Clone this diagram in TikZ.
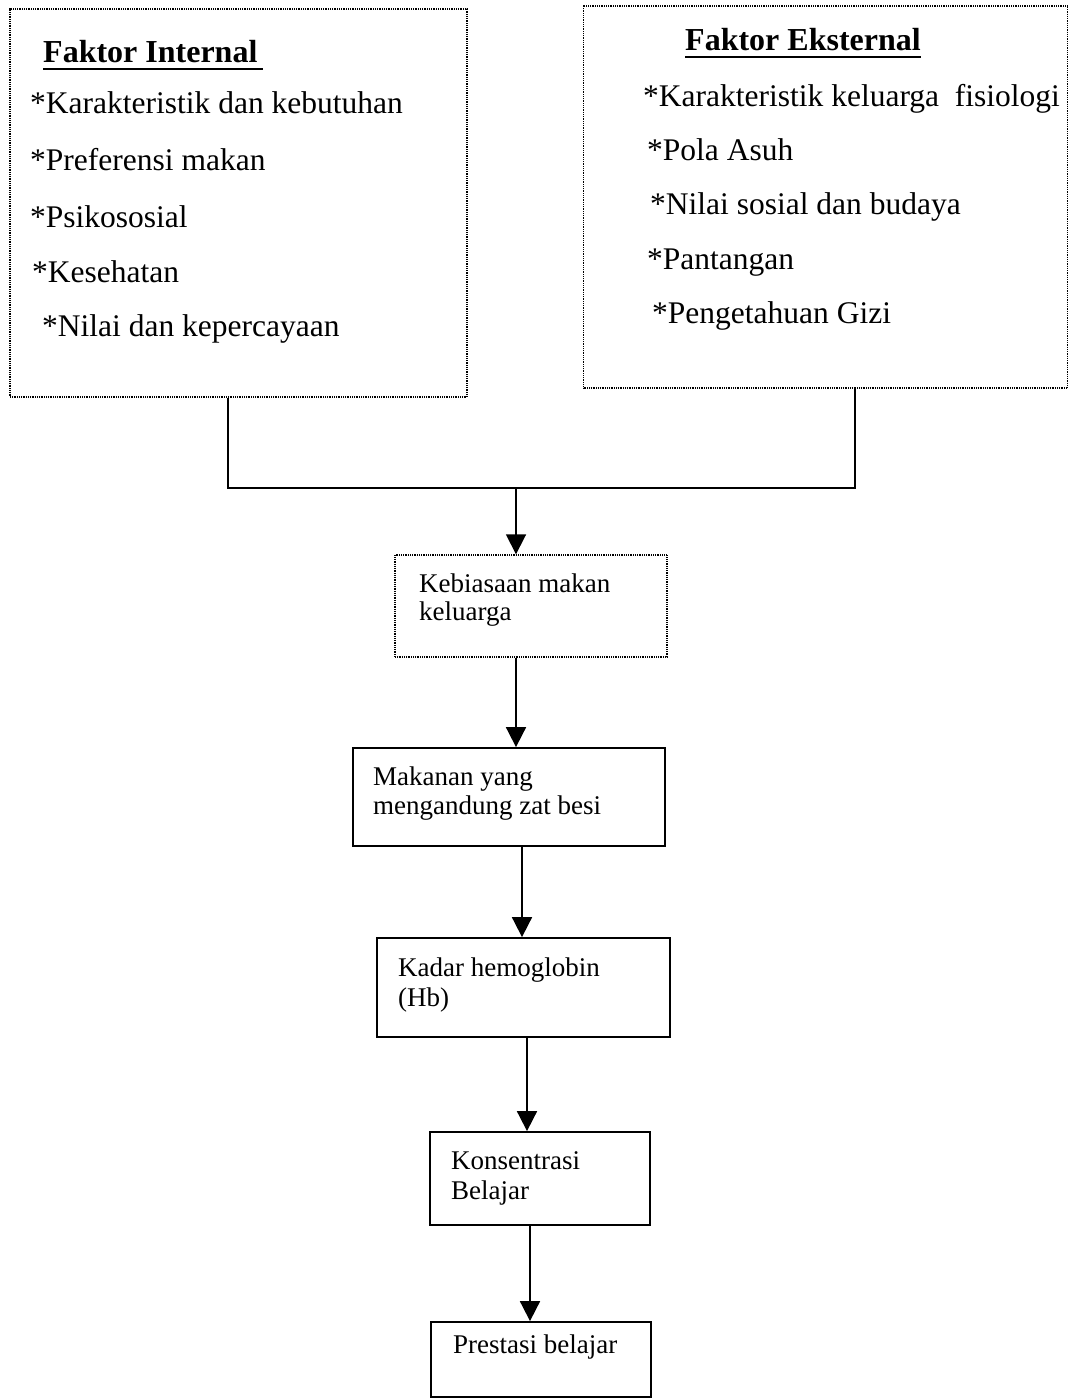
\documentclass[tikz,border=0pt]{standalone}
\usepackage{fontspec}
\setmainfont{Liberation Serif}
\usetikzlibrary{arrows.meta}
\begin{document}
\begin{tikzpicture}[x=1pt,y=-1pt,
  dotbox/.style={draw, line width=1.4pt, dash pattern=on 1pt off 0.8pt, inner sep=0pt},
  solidbox/.style={draw, line width=1.8pt, inner sep=0pt},
  big/.style={anchor=base west, inner sep=0pt, font=\fontsize{31.5}{36}\selectfont},
  head/.style={anchor=base west, inner sep=0pt, font=\fontsize{32}{36}\selectfont\bfseries},
  small/.style={anchor=base west, inner sep=0pt, font=\fontsize{27}{31}\selectfont},
  conn/.style={line width=1.8pt},
  arr/.style={conn, -{Triangle[width=20pt,length=20pt]}},
  uline/.style={line width=2.5pt}
]
\useasboundingbox (0,0) rectangle (1071,1399);

% top boxes
\node[dotbox, minimum width=457pt, minimum height=388pt] (int) at (238.5,203) {};
\node[dotbox, minimum width=484pt, minimum height=382pt] (ext) at (825.5,197) {};

% internal texts
\node[head] (hi) at (43,63) {Faktor Internal};
\node[big] (i1) at (30,114) {*Karakteristik dan kebutuhan};
\node[big] (i2) at (30,171) {*Preferensi makan};
\node[big] (i3) at (30,227) {*Psikososial};
\node[big] (i4) at (32,282) {*Kesehatan};
\node[big] (i5) at (42,336) {*Nilai dan kepercayaan};
\draw[uline] ([yshift=-6pt]hi.base west) -- ([yshift=-6pt,xshift=5pt]hi.base east);

% external texts
\node[head] (he) at (685,51) {Faktor Eksternal};
\node[big] (e1) at (643,107) {*Karakteristik keluarga\ \ fisiologi};
\node[big] (e2) at (647,161) {*Pola Asuh};
\node[big] (e3) at (650,214) {*Nilai sosial dan budaya};
\node[big] (e4) at (647,269) {*Pantangan};
\node[big] (e5) at (652,323) {*Pengetahuan Gizi};
\draw[uline] ([yshift=-6pt]he.base west) -- ([yshift=-6pt]he.base east);

% chain boxes
\node[dotbox, minimum width=272pt, minimum height=102pt] (keb) at (531,606) {};
\node[small] (kt1) at (419,592) {Kebiasaan makan};
\node[small] (kt2) at (419,620) {keluarga};

\node[solidbox, minimum width=312pt, minimum height=98pt] (mak) at (509,797) {};
\node[small] (mt1) at (373,785) {Makanan yang};
\node[small] (mt2) at (373,814) {mengandung zat besi};

\node[solidbox, minimum width=293pt, minimum height=99pt] (hb) at (523.5,987.5) {};
\node[small] (ht1) at (398,976) {Kadar hemoglobin};
\node[small] (ht2) at (398,1006) {(Hb)};

\node[solidbox, minimum width=220pt, minimum height=93pt] (kon) at (540,1178.5) {};
\node[small] (ct1) at (451,1169) {Konsentrasi};
\node[small] (ct2) at (451,1199) {Belajar};

\node[solidbox, minimum width=220pt, minimum height=75pt] (pre) at (541,1359.5) {};
\node[small] (pt1) at (453,1353) {Prestasi belajar};

% connectors
\coordinate (jl) at (228,488);
\coordinate (jr) at (855,488);
\coordinate (jm) at (516,488);
\coordinate (a1) at (516,0);
\coordinate (a2) at (522,0);
\coordinate (a3) at (527,0);
\coordinate (a4) at (530,0);

\draw[conn] (int.south -| jl) -- (jl) -- (jr) -- (ext.south -| jr);
\draw[arr] (jm) -- (keb.north -| jm);
\draw[arr] (keb.south -| a1) -- (mak.north -| a1);
\draw[arr] (mak.south -| a2) -- (hb.north -| a2);
\draw[arr] (hb.south -| a3) -- (kon.north -| a3);
\draw[arr] (kon.south -| a4) -- (pre.north -| a4);
\end{tikzpicture}
\end{document}
